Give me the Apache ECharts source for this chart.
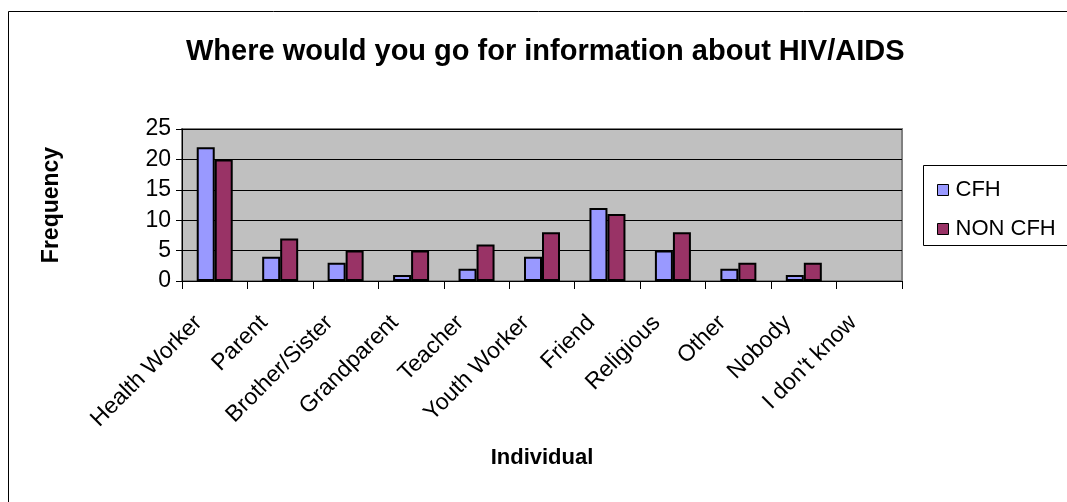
<!DOCTYPE html>
<html>
<head>
<meta charset="utf-8">
<script src="https://cdn.jsdelivr.net/npm/echarts@6/dist/echarts.min.js"></script>
<style>
html,body{margin:0;padding:0;background:#fff;}
#c{width:1067px;height:502px;}
</style>
</head>
<body>
<div id="c"></div>
<script>
const titleText = 'Where would you go for information about HIV/AIDS';
const categories = ['Health Worker','Parent','Brother/Sister','Grandparent','Teacher','Youth Worker','Friend','Religious','Other','Nobody',"I don't know"];
const cfhValues = [22,4,3,1,2,4,12,5,2,1,0];
const nonCfhValues = [20,7,5,5,6,8,11,8,3,3,0];
const yTicks = {min:0, max:25, interval:5};

// zero-valued bars are not drawn in the reference (no outline)
const hideZero = arr => arr.map(v => v === 0 ? {value:v, itemStyle:{borderWidth:0, opacity:0}} : v);

const FONT = '"Liberation Sans", Arial, sans-serif';
const chart = echarts.init(document.getElementById('c'), null, {renderer:'canvas'});
chart.setOption({
  animation:false,
  backgroundColor:'#ffffff',
  textStyle:{fontFamily:FONT},
  title:{
    text:titleText, left:181, top:32,
    textStyle:{fontFamily:FONT, fontSize:29, fontWeight:'bold', color:'#000'}
  },
  graphic:[
    {type:'rect', shape:{x:8.5, y:11.5, width:1200, height:800}, style:{fill:'none', stroke:'#000', lineWidth:1}, silent:true, z:-10},
    {type:'rect', shape:{x:923.5, y:165.5, width:300, height:80}, style:{fill:'#fff', stroke:'#000', lineWidth:1}, silent:true, z:-5}
  ],
  legend:{
    orient:'vertical', left:932, top:174,
    itemWidth:11, itemHeight:11, itemGap:17,
    icon:'rect',
    itemStyle:{borderColor:'#000', borderWidth:1},
    textStyle:{fontFamily:FONT, fontSize:22, color:'#000', lineHeight:22, padding:[0,0,0,2]},
    data:['CFH','NON CFH']
  },
  grid:{
    left:182, right:165, top:129, bottom:221,
    show:true, backgroundColor:'#C0C0C0', borderColor:'#808080', borderWidth:2
  },
  xAxis:{
    type:'category', data:categories,
    name:'Individual', nameLocation:'middle', nameGap:166,
    nameTextStyle:{fontFamily:FONT, fontSize:22, fontWeight:'bold', color:'#000'},
    axisLine:{show:true, lineStyle:{color:'#000', width:1}},
    axisTick:{show:true, length:8, lineStyle:{color:'#000'}},
    axisLabel:{rotate:45, fontSize:23, color:'#000', margin:22, interval:0, fontFamily:FONT, padding:[0,23,0,0]},
    splitLine:{show:false}
  },
  yAxis:{
    type:'value', min:yTicks.min, max:yTicks.max, interval:yTicks.interval,
    name:'Frequency', nameLocation:'middle', nameGap:119, nameRotate:90,
    nameTextStyle:{fontFamily:FONT, fontSize:23, fontWeight:'bold', color:'#000'},
    axisLine:{show:true, lineStyle:{color:'#000', width:1}},
    axisTick:{show:true, length:6, lineStyle:{color:'#000'}},
    axisLabel:{fontSize:23, color:'#000', margin:11, fontFamily:FONT},
    splitLine:{show:true, lineStyle:{color:'#000', width:1}}
  },
  series:[
    {name:'CFH', type:'bar', data:hideZero(cfhValues), barWidth:18, barGap:'0%',
     itemStyle:{color:'#9999FF', borderColor:'#000', borderWidth:2}},
    {name:'NON CFH', type:'bar', data:hideZero(nonCfhValues), barWidth:18, barGap:'0%',
     itemStyle:{color:'#993366', borderColor:'#000', borderWidth:2}}
  ]
});
</script>
</body>
</html>
